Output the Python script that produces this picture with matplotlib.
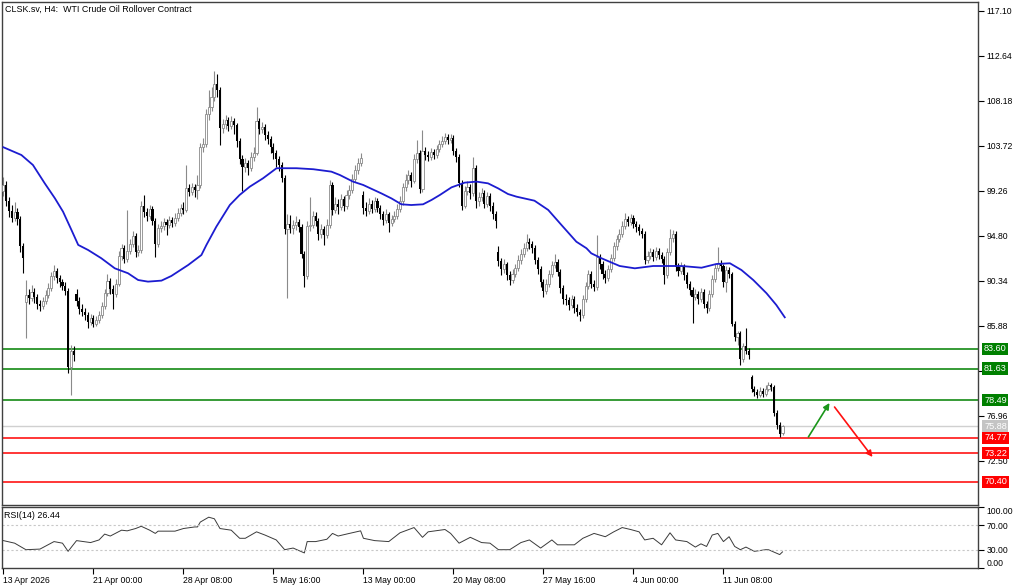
import matplotlib.pyplot as plt
import matplotlib.transforms as mtransforms
import numpy as np

plt.rcParams['font.family'] = ['Liberation Sans', 'DejaVu Sans']
plt.rcParams['font.size'] = 6.2

title = "CLSK.sv, H4:  WTI Crude Oil Rollover Contract"

# H4 candles, oldest first
opens = [
    99.2, 99.8, 98.2, 97.3, 96.6, 97.2, 96.5, 93.8, 88.2, 88.9,
    88.6, 89.2, 88.7, 88.0, 87.8, 88.3, 88.9, 89.6, 90.8, 91.3,
    90.6, 90.2, 89.8, 89.3, 81.8, 83.4, 89.0, 88.3, 87.5, 87.2,
    86.9, 86.2, 86.6, 86.0, 86.4, 86.9, 87.8, 89.1, 90.3, 89.5,
    89.0, 90.0, 92.8, 93.6, 92.5, 93.3, 94.0, 94.8, 93.2, 93.4,
    97.8, 97.2, 96.8, 97.5, 96.3, 94.0, 95.6, 95.8, 96.2, 95.9,
    96.4, 96.1, 96.6, 97.1, 97.6, 97.4, 99.5, 99.1, 99.6, 99.3,
    99.8, 103.6, 103.9, 106.9, 107.6, 108.6, 109.9, 109.3, 105.5, 105.9,
    106.3, 105.7, 106.2, 105.8, 104.2, 102.4, 101.6, 102.0, 101.5, 102.6,
    103.0, 106.2, 105.4, 105.6, 104.8, 104.4, 103.6, 103.0, 102.4, 101.8,
    100.5, 95.5, 96.0, 95.6, 95.9, 96.2, 95.7, 93.0, 90.8, 95.8,
    95.9, 96.8, 96.3, 95.0, 95.5, 94.9, 95.9, 99.8, 97.4, 98.0,
    97.7, 98.4, 97.8, 98.8, 99.3, 100.4, 101.3, 102.0, 98.8, 97.6,
    97.3, 98.0, 97.5, 98.2, 97.6, 97.0, 96.4, 97.0, 96.1, 96.5,
    96.8, 97.5, 98.2, 99.6, 100.3, 100.8, 100.2, 102.4, 103.0, 99.4,
    103.2, 102.8, 102.6, 103.1, 102.8, 103.4, 103.9, 104.2, 104.6, 104.3,
    104.5, 103.2, 102.6, 100.0, 97.8, 99.2, 99.6, 99.0, 101.5, 98.2,
    98.6, 99.0, 98.0, 98.7, 97.8, 97.0, 93.2, 92.3, 91.5, 92.0,
    90.9, 90.4, 91.0, 91.6, 92.4, 93.0, 93.6, 94.2, 94.0, 93.6,
    92.4, 91.5, 90.2, 89.3, 90.0, 91.0, 91.9, 92.2, 91.2, 89.6,
    88.5, 88.4, 87.9, 88.5, 87.6, 87.2, 86.9, 88.5, 89.8, 91.0,
    90.0, 89.7, 92.7, 92.0, 91.0, 90.6, 91.5, 92.6, 93.8, 94.5,
    95.0, 95.8, 96.5, 96.2, 96.6, 96.0, 95.7, 95.3, 95.0, 92.4,
    92.8, 93.2, 92.7, 93.3, 92.9, 92.5, 90.9, 93.2, 94.6, 95.0,
    91.7, 91.3, 91.8, 90.9, 90.0, 89.4, 88.7, 89.0, 88.5, 89.2,
    88.0, 87.6, 89.0, 90.5, 91.6, 92.1, 91.8, 90.2, 91.4, 91.0,
    86.0, 84.8, 85.2, 82.6, 83.9, 83.4, 80.8, 79.6, 79.3, 79.0,
    79.4, 79.1, 79.6, 80.0, 79.8, 77.2, 76.0, 75.2,
]
closes = [
    99.8, 98.2, 97.3, 96.6, 97.2, 96.5, 93.8, 92.6, 88.9, 88.6,
    89.2, 88.7, 88.0, 87.8, 88.3, 88.9, 89.6, 90.8, 91.3, 90.6,
    90.2, 89.8, 89.3, 81.8, 83.4, 83.0, 88.3, 87.5, 87.2, 86.9,
    86.2, 86.6, 86.0, 86.4, 86.9, 87.8, 89.1, 90.3, 89.5, 89.0,
    90.0, 92.8, 93.6, 92.5, 93.3, 94.0, 94.8, 93.2, 93.4, 97.8,
    97.2, 96.8, 97.5, 96.3, 94.0, 95.6, 95.8, 96.2, 95.9, 96.4,
    96.1, 96.6, 97.1, 97.6, 97.4, 99.5, 99.1, 99.6, 99.3, 99.8,
    103.6, 103.9, 106.9, 107.6, 108.6, 109.9, 109.3, 105.5, 105.9, 106.3,
    105.7, 106.2, 105.8, 104.2, 102.4, 101.6, 102.0, 101.5, 102.6, 103.0,
    106.2, 105.4, 105.6, 104.8, 104.4, 103.6, 103.0, 102.4, 101.8, 100.5,
    95.5, 96.0, 95.6, 95.9, 96.2, 95.7, 93.0, 90.8, 95.8, 95.9,
    96.8, 96.3, 95.0, 95.5, 94.9, 95.9, 99.8, 97.4, 98.0, 97.7,
    98.4, 97.8, 98.8, 99.3, 100.4, 101.3, 102.0, 102.5, 97.6, 97.3,
    98.0, 97.5, 98.2, 97.6, 97.0, 96.4, 97.0, 96.1, 96.5, 96.8,
    97.5, 98.2, 99.6, 100.3, 100.8, 100.2, 102.4, 103.0, 99.4, 103.2,
    102.8, 102.6, 103.1, 102.8, 103.4, 103.9, 104.2, 104.6, 104.3, 104.5,
    103.2, 102.6, 100.0, 97.8, 99.2, 99.6, 99.0, 101.5, 98.2, 98.6,
    99.0, 98.0, 98.7, 97.8, 97.0, 96.3, 92.3, 91.5, 92.0, 90.9,
    90.4, 91.0, 91.6, 92.4, 93.0, 93.6, 94.2, 94.0, 93.6, 92.4,
    91.5, 90.2, 89.3, 90.0, 91.0, 91.9, 92.2, 91.2, 89.6, 88.5,
    88.4, 87.9, 88.5, 87.6, 87.2, 86.9, 88.5, 89.8, 91.0, 90.0,
    89.7, 92.7, 92.0, 91.0, 90.6, 91.5, 92.6, 93.8, 94.5, 95.0,
    95.8, 96.5, 96.2, 96.6, 96.0, 95.7, 95.3, 95.0, 92.4, 92.8,
    93.2, 92.7, 93.3, 92.9, 92.5, 90.9, 93.2, 94.6, 95.0, 91.7,
    91.3, 91.8, 90.9, 90.0, 89.4, 88.7, 89.0, 88.5, 89.2, 88.0,
    87.6, 89.0, 90.5, 91.6, 92.1, 91.8, 90.2, 91.4, 91.0, 86.0,
    84.8, 85.2, 82.6, 83.9, 83.4, 83.0, 79.6, 79.3, 79.0, 79.4,
    79.1, 79.6, 80.0, 79.8, 77.2, 76.0, 75.1, 75.88,
]
highs = [
    100.6, 100.2, 98.6, 97.9, 98.1, 97.6, 96.8, 94.1, 90.4, 89.5,
    89.9, 89.6, 89.0, 88.4, 88.7, 89.4, 90.1, 91.2, 91.9, 91.6,
    90.9, 90.5, 90.2, 89.6, 84.0, 83.9, 89.5, 88.7, 88.0, 87.6,
    87.2, 87.0, 86.9, 86.8, 87.3, 88.2, 89.5, 91.0, 90.6, 89.9,
    90.5, 93.3, 94.0, 93.9, 97.4, 94.5, 95.3, 95.1, 93.9, 98.2,
    98.8, 97.6, 97.9, 97.8, 96.6, 96.0, 96.3, 96.6, 96.5, 96.8,
    96.7, 97.1, 97.6, 98.0, 98.1, 101.8, 99.9, 100.0, 99.9, 100.8,
    104.0, 104.5, 107.4, 109.3, 109.6, 111.1, 110.8, 109.6, 106.4, 106.8,
    106.6, 106.7, 106.5, 106.0, 104.5, 102.8, 102.5, 102.3, 103.1, 103.6,
    107.6, 106.5, 106.1, 105.9, 105.2, 104.7, 104.0, 103.3, 102.7, 102.1,
    100.8, 97.0, 96.9, 96.4, 96.8, 96.5, 96.0, 93.3, 96.3, 98.6,
    97.3, 97.2, 96.6, 96.0, 95.8, 96.5, 100.3, 100.1, 98.6, 98.4,
    98.9, 98.7, 99.3, 99.8, 100.9, 101.8, 102.5, 103.0, 99.2, 98.1,
    98.5, 98.3, 98.6, 98.5, 97.9, 97.3, 97.5, 97.2, 96.9, 97.3,
    98.0, 98.7, 100.0, 100.9, 101.3, 101.1, 102.9, 104.3, 103.3, 105.3,
    103.6, 103.2, 103.5, 103.4, 103.8, 104.3, 104.7, 105.0, 104.9, 104.9,
    104.8, 103.5, 102.9, 100.3, 99.7, 100.2, 99.9, 102.6, 101.8, 99.1,
    99.5, 99.3, 99.1, 99.0, 98.1, 97.3, 93.8, 92.6, 92.5, 92.2,
    91.3, 91.5, 92.0, 92.9, 93.5, 94.1, 95.0, 94.6, 94.3, 93.9,
    92.7, 91.8, 90.5, 90.5, 91.4, 92.3, 93.0, 92.5, 91.5, 89.9,
    89.0, 88.7, 88.9, 88.8, 88.0, 87.5, 88.9, 90.2, 91.4, 91.3,
    90.4, 94.9, 93.0, 92.3, 91.4, 91.9, 93.0, 94.2, 94.9, 95.5,
    96.3, 97.1, 96.8, 97.0, 96.9, 96.3, 96.0, 95.6, 95.3, 93.3,
    93.6, 93.5, 93.7, 93.6, 93.2, 92.8, 93.6, 95.5, 95.4, 95.3,
    92.1, 92.2, 92.0, 91.2, 90.3, 89.7, 89.5, 89.3, 89.6, 89.5,
    88.3, 89.4, 90.9, 92.0, 93.7, 92.4, 92.0, 91.8, 91.7, 91.2,
    86.3, 85.4, 85.4, 84.2, 85.6, 83.7, 81.0, 79.9, 79.6, 79.8,
    79.7, 80.0, 80.3, 80.2, 80.0, 77.5, 76.3, 76.0,
]
lows = [
    98.7, 97.8, 96.7, 96.2, 96.3, 95.9, 93.2, 91.1, 84.7, 88.0,
    88.3, 88.1, 87.5, 87.3, 87.5, 88.0, 88.6, 89.3, 90.4, 90.1,
    89.7, 89.4, 88.9, 81.2, 79.0, 82.4, 87.8, 87.0, 86.8, 86.4,
    85.6, 85.9, 85.7, 85.8, 86.1, 86.6, 87.5, 88.8, 89.0, 87.5,
    88.7, 89.8, 92.4, 92.1, 92.2, 93.0, 93.7, 92.7, 92.8, 93.1,
    96.7, 96.3, 96.5, 95.9, 92.7, 93.7, 95.2, 95.4, 94.9, 95.6,
    95.7, 95.8, 96.3, 96.8, 97.0, 97.2, 98.7, 98.8, 98.6, 98.4,
    99.5, 103.1, 103.6, 106.3, 107.2, 108.2, 108.6, 103.8, 105.0, 105.4,
    105.2, 105.4, 104.9, 103.6, 101.9, 99.2, 101.1, 100.8, 101.2, 102.2,
    102.8, 104.9, 105.0, 104.3, 103.9, 103.0, 102.4, 101.6, 101.2, 100.1,
    95.0, 88.6, 95.1, 95.0, 95.4, 95.2, 92.6, 89.7, 90.5, 95.3,
    95.6, 95.8, 94.4, 94.6, 93.9, 94.6, 95.6, 96.9, 97.1, 97.0,
    97.4, 97.3, 97.5, 98.4, 99.0, 100.1, 100.9, 101.7, 97.0, 96.8,
    97.0, 97.1, 97.2, 97.2, 96.5, 95.9, 96.1, 95.2, 95.8, 96.2,
    96.5, 97.2, 97.9, 99.2, 99.9, 99.6, 100.0, 102.0, 99.0, 99.1,
    102.3, 102.2, 102.3, 102.4, 102.5, 103.1, 103.6, 103.9, 103.9, 104.0,
    102.8, 102.1, 99.6, 97.4, 97.6, 98.8, 98.4, 98.7, 97.6, 97.8,
    98.2, 97.6, 97.7, 97.3, 96.5, 95.6, 91.8, 90.9, 91.1, 90.4,
    89.9, 90.1, 90.7, 91.3, 92.0, 92.7, 93.3, 93.5, 93.1, 92.0,
    91.0, 89.7, 88.7, 89.0, 89.7, 90.7, 91.6, 90.8, 89.1, 88.0,
    87.9, 87.4, 87.6, 87.1, 86.8, 86.3, 86.6, 88.2, 89.5, 89.6,
    89.3, 89.4, 91.5, 90.5, 90.1, 90.3, 91.2, 92.3, 93.4, 94.2,
    94.7, 95.5, 95.8, 95.9, 95.6, 95.2, 94.9, 94.6, 92.0, 92.1,
    92.5, 92.3, 92.4, 92.5, 92.1, 90.0, 90.6, 92.9, 94.2, 91.3,
    90.8, 91.0, 90.4, 89.6, 88.9, 86.1, 88.4, 88.0, 88.2, 87.6,
    87.1, 87.3, 88.7, 90.2, 91.3, 91.3, 89.7, 89.2, 90.6, 85.8,
    84.4, 84.0, 82.0, 82.3, 83.1, 82.6, 79.3, 78.9, 78.7, 78.8,
    78.8, 78.9, 79.4, 79.4, 76.9, 75.6, 74.8, 75.0,
]

# moving average at a number of bars
ma_bar = [0, 6.4, 10.5, 14.7, 18.3, 21.2, 24.2, 26.6, 30.1, 34.8, 39.6, 44.3, 47.9, 51.4, 56.2,
          59.7, 65.7, 70.4, 72.2, 75.7, 80.5, 84.0, 87.6, 92.3, 97.1, 104.2, 110.2, 116.6, 119.6,
          124.3, 127.9, 134.4, 138.0, 141.5, 145.0, 149.2, 152.2, 155.2, 159.3, 164.0, 168.2, 172.3,
          175.9, 179.4, 182.4, 188.8, 193.7, 198.4, 203.7, 207.3, 209.0, 212.6, 219.1, 224.5, 231.0,
          241.1, 248.2, 253.5, 258.3, 262.4, 266.6, 271.3, 274.8, 277.8]
ma_val = [103.58, 102.81, 101.82, 100.0, 98.52, 97.19, 95.37, 93.89, 93.39, 92.57, 91.57, 91.08, 90.41, 90.25, 90.35,
          90.81, 91.9, 92.89, 93.9, 95.7, 97.85, 98.85, 99.67, 100.5, 101.5, 101.5, 101.4, 101.16, 100.83,
          100.17, 99.84, 99.0, 98.5, 97.92, 97.85, 97.92, 98.35, 98.85, 99.6, 100.07, 100.17, 100.0,
          99.5, 98.94, 98.68, 98.28, 97.36, 95.87, 94.21, 93.56, 93.06, 92.57, 91.8, 91.57, 91.8,
          91.8, 91.63, 92.0, 92.07, 91.4, 90.41, 89.1, 87.93, 86.71]

# RSI(14)
rsi_bar = [0, 4, 8, 13, 18, 21, 23, 26, 31, 34, 36, 38, 42, 44, 47, 49, 52, 54, 55, 61,
           64, 68, 69, 70, 73, 75, 77, 81, 84, 86, 90, 93, 97, 100, 103, 107, 108, 111, 115, 117,
           119, 123, 127, 128, 132, 137, 141, 146, 149, 151, 157, 159, 162, 166, 170, 173, 176, 180, 184, 187,
           191, 195, 197, 203, 206, 210, 212, 214, 217, 220, 223, 226, 228, 231, 234, 237, 239, 243, 246, 248,
           250, 252, 254, 256, 258, 260, 262, 264, 267, 271, 272, 276, 277]
rsi_val = [44.9, 40.7, 30.0, 31.0, 43.3, 40.7, 27.3, 44.9, 41.7, 46.0, 55.6, 52.4, 62.0, 60.9, 64.7, 68.4, 62.0, 56.7, 60.4, 60.4,
           64.7, 67.3, 67.3, 75.3, 83.3, 80.7, 64.7, 62.0, 48.7, 48.7, 59.3, 54.0, 46.0, 30.0, 32.7, 24.7, 43.3, 43.3, 47.1, 56.7,
           52.4, 56.7, 60.9, 48.7, 44.9, 43.3, 57.7, 66.3, 50.3, 59.3, 63.1, 56.7, 40.7, 50.3, 41.7, 40.7, 30.0, 30.0, 41.7, 46.0,
           32.7, 46.0, 38.0, 38.0, 48.7, 56.7, 54.0, 51.3, 59.3, 66.3, 63.1, 59.3, 46.0, 48.7, 38.0, 57.7, 46.0, 43.3, 34.3, 39.6,
           35.3, 54.0, 56.7, 43.3, 51.3, 35.3, 30.0, 34.3, 27.3, 30.0, 30.0, 22.0, 26.44]

resistance = [83.60, 81.63, 78.49]
support = [74.77, 73.22, 70.40]
last_price = 75.88

price_ticks = [117.10, 112.64, 108.18, 103.72, 99.26, 94.80, 90.34, 85.88, 81.42, 76.96, 72.50]
hidden_ticks = [81.42]  # sits under the 81.63 tag
date_bars = [0, 32, 64, 96, 128, 160, 192, 224, 256]
date_labels = ["13 Apr 2026", "21 Apr 00:00", "28 Apr 08:00", "5 May 16:00", "13 May 00:00",
               "20 May 08:00", "27 May 16:00", "4 Jun 00:00", "11 Jun 08:00"]

W, H = 1024, 587
fig = plt.figure(figsize=(W / 100, H / 100), dpi=100)
ax = fig.add_axes([2 / W, 1 - 505 / H, 976 / W, 503 / H])
ax_rsi = fig.add_axes([2 / W, 1 - 568 / H, 976 / W, 61 / H], sharex=ax)

o = np.array(opens)
c = np.array(closes)
hi = np.array(highs)
lo = np.array(lows)
x = np.arange(len(c))
up = c >= o
bull = '#8a8a8a'

ax.vlines(x[up], lo[up], hi[up], color=bull, lw=0.8, zorder=2)
ax.vlines(x[~up], lo[~up], hi[~up], color='black', lw=0.8, zorder=2)
bottom = np.minimum(o, c)
height = np.maximum(np.abs(c - o), 0.08)
ax.bar(x[up], height[up], bottom=bottom[up], width=0.75, facecolor='white',
       edgecolor=bull, linewidth=0.6, zorder=3)
ax.bar(x[~up], height[~up], bottom=bottom[~up], width=0.75, color='black',
       linewidth=0, zorder=3)

ax.plot(ma_bar, ma_val, color='#1c1cd0', lw=1.3, zorder=4, solid_joinstyle='round')

ax.axhline(last_price, color='#d0d0d0', lw=1, zorder=1)
for lvl in resistance:
    ax.axhline(lvl, color='#008000', lw=1.1, zorder=1)
for lvl in support:
    ax.axhline(lvl, color='#ff0000', lw=1.1, zorder=1)

# arrows drawn on the chart
ax.annotate('', xy=(293.7, 78.21), xytext=(286.2, 74.84),
            arrowprops=dict(arrowstyle='-|>', color='#1a961a', lw=1.2,
                            mutation_scale=9, shrinkA=0, shrinkB=0))
ax.annotate('', xy=(309.0, 72.85), xytext=(295.5, 77.81),
            arrowprops=dict(arrowstyle='-|>', color='#ff1010', lw=1.2,
                            mutation_scale=9, shrinkA=0, shrinkB=0))

ax.set_xlim(-0.5, 346.5)
ax.set_ylim(68.09, 117.99)
ax.yaxis.tick_right()
ax.set_yticks(price_ticks)
ax.set_yticklabels(["" if v in hidden_ticks else f"{v:.2f}" for v in price_ticks])
ax.tick_params(axis='y', direction='out', length=4, width=0.8, pad=2, labelsize=6.2)
ax.tick_params(axis='x', bottom=False, labelbottom=False)

# price tags on the right scale
trans = mtransforms.blended_transform_factory(ax.transAxes, ax.transData)
tags = [(v, '#008000') for v in resistance] + [(last_price, '#c4c4c4')] + \
       [(v, '#ff0000') for v in support]
for v, col in tags:
    ax.text(1.0062, v, f"{v:.2f}", transform=trans, color='white', fontsize=6.6,
            va='center', ha='left', clip_on=False, zorder=10,
            bbox=dict(boxstyle='square,pad=0.18', fc=col, ec='none'))

ax_rsi.plot(rsi_bar, rsi_val, color='#3a3a3a', lw=0.7)
for lvl in (70, 30):
    ax_rsi.axhline(lvl, color='#c8c8c8', lw=0.8, ls=(0, (2, 2)))
ax_rsi.set_ylim(0, 100)
ax_rsi.yaxis.tick_right()
ax_rsi.set_yticks([0, 30, 70, 100])
ax_rsi.set_yticklabels(["0.00", "30.00", "70.00", "100.00"])
ax_rsi.tick_params(axis='y', direction='out', length=4, width=0.8, pad=2, labelsize=6.2)
ylabs = ax_rsi.get_yticklabels()
ylabs[0].set_va('bottom')
ylabs[-1].set_va('top')
ax_rsi.set_xticks(date_bars)
ax_rsi.set_xticklabels(date_labels, ha='left')
ax_rsi.tick_params(axis='x', direction='out', length=4, width=0.8, pad=2, labelsize=6.2)

for a in (ax, ax_rsi):
    for s in a.spines.values():
        s.set_color('#404040')
        s.set_linewidth(1)

fig.text(5 / W, 1 - 9 / H, title, va='center', ha='left', fontsize=6.4)
fig.text(4 / W, 1 - 516 / H, "RSI(14) 26.44", va='center', ha='left', fontsize=6.4)

fig.savefig('out.png', dpi=100)
